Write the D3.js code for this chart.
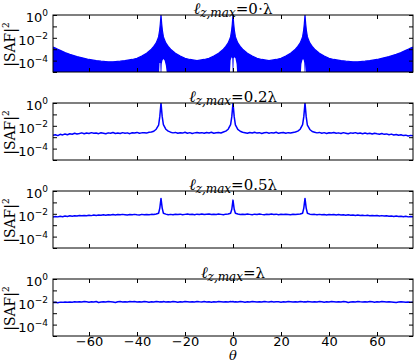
<!DOCTYPE html>
<html><head><meta charset="utf-8">
<script src="https://cdn.jsdelivr.net/npm/d3@7"></script>
<style>body{margin:0;background:#fff}</style>
</head><body>
<script>
// ---------- DATA (log10 of |SAF|^2) ----------
// Panel 1 (l_z,max = 0·λ): dense side-lobe band, given as upper / lower envelope
const theta1 = [-75,-74,-73,-72,-70,-68,-65,-62,-60,-57,-55,-52,-50,-47,-45,-42,-40,-38,-36,-34,-33,-32,-31.5,-31,-30.6,-30.3,-30,-29.7,-29.4,-29,-28.5,-28,-27,-26,-24,-22,-20,-18,-15,-12,-10,-8,-6,-4,-3,-2,-1.5,-1,-0.6,-0.3,0,0.3,0.6,1,1.5,2,3,4,6,8,10,12,15,18,20,22,24,26,27,28,28.5,29,29.4,29.7,30,30.3,30.6,31,31.5,32,33,34,36,38,40,42,45,47,50,52,55,57,60,62,65,68,70,72,73,74,75];
const upper1 = [-2.8,-2.9,-3.0,-3.1,-3.3,-3.45,-3.65,-3.8,-3.9,-4.0,-4.05,-4.1,-4.1,-4.05,-4.0,-3.9,-3.8,-3.6,-3.35,-3.0,-2.75,-2.45,-2.2,-1.9,-1.4,-0.8,0,-0.8,-1.4,-1.9,-2.2,-2.45,-2.75,-3.0,-3.35,-3.6,-3.8,-3.9,-4.0,-3.9,-3.8,-3.6,-3.35,-3.0,-2.75,-2.45,-2.2,-1.9,-1.4,-0.8,0,-0.8,-1.4,-1.9,-2.2,-2.45,-2.75,-3.0,-3.35,-3.6,-3.8,-3.9,-4.0,-3.9,-3.8,-3.6,-3.35,-3.0,-2.75,-2.45,-2.2,-1.9,-1.4,-0.8,0,-0.8,-1.4,-1.9,-2.2,-2.45,-2.75,-3.0,-3.35,-3.6,-3.8,-3.9,-4.0,-4.05,-4.1,-4.1,-4.05,-4.0,-3.9,-3.8,-3.65,-3.45,-3.3,-3.1,-3.0,-2.9,-2.8];
const lower1 = [-6,-6,-6,-6,-6,-6,-6,-6,-6,-6,-6,-6,-6,-6,-6,-6,-6,-6,-6,-6,-6,-6,-6,-6,-4.2,-4.2,-6,-4.3,-4.0,-3.85,-4.0,-4.4,-6,-6,-6,-6,-6,-6,-6,-6,-6,-6,-6,-6,-6,-6,-6,-4.0,-3.7,-3.8,-6,-3.8,-3.7,-3.8,-4.3,-6,-6,-6,-6,-6,-6,-6,-6,-6,-6,-6,-6,-6,-6,-6,-4.3,-3.9,-3.9,-4.2,-6,-4.3,-6,-6,-6,-6,-6,-6,-6,-6,-6,-6,-6,-6,-6,-6,-6,-6,-6,-6,-6,-6,-6,-6,-6,-6,-6];

// Panels 2-4 share one θ grid
const theta = [-75,-74,-73,-72,-71,-70,-69,-68,-67,-66,-65,-64,-63,-62,-61,-60,-59,-58,-57,-56,-55,-54,-53,-52,-51,-50,-49,-48,-47,-46,-45,-44,-43,-42,-41,-40,-39,-38,-37,-36,-35,-34,-33,-32,-31,
 -30.5,-30,-29.5,
 -29,-28,-27,-26,-25,-24,-23,-22,-21,-20,-19,-18,-17,-16,-15,-14,-13,-12,-11,-10,-9,-8,-7,-6,-5,-4,-3,-2,-1,
 -0.5,0,0.5,
 1,2,3,4,5,6,7,8,9,10,11,12,13,14,15,16,17,18,19,20,21,22,23,24,25,26,27,28,29,
 29.5,30,30.5,
 31,32,33,34,35,36,37,38,39,40,41,42,43,44,45,46,47,48,49,50,51,52,53,54,55,56,57,58,59,60,61,62,63,64,65,66,67,68,69,70,71,72,73,74,75];

const saf02 = [-2.84,-2.78,-2.86,-2.75,-2.80,-2.72,-2.78,-2.70,-2.74,-2.66,
 -2.72,-2.68,-2.62,-2.70,-2.64,-2.68,-2.60,-2.66,-2.63,-2.69,
 -2.61,-2.65,-2.70,-2.62,-2.66,-2.59,-2.67,-2.63,-2.68,-2.60,
 -2.65,-2.62,-2.69,-2.61,-2.64,-2.58,-2.66,-2.62,-2.60,-2.64,
 -2.57,-2.55,-2.48,-2.30,-1.95,
 -1.2,0,-1.2,
 -1.9,-2.3,-2.47,-2.56,-2.62,-2.58,-2.66,-2.61,-2.64,-2.57,
 -2.65,-2.60,-2.67,-2.62,-2.58,-2.64,-2.60,-2.66,-2.59,-2.63,
 -2.57,-2.65,-2.61,-2.58,-2.63,-2.55,-2.47,-2.30,-1.90,
 -1.2,0,-1.2,
 -1.92,-2.32,-2.48,-2.57,-2.61,-2.66,-2.59,-2.63,-2.57,-2.64,
 -2.60,-2.67,-2.61,-2.58,-2.65,-2.60,-2.63,-2.57,-2.66,-2.61,
 -2.59,-2.65,-2.60,-2.63,-2.58,-2.55,-2.47,-2.30,-1.90,
 -1.2,0,-1.2,
 -1.95,-2.32,-2.50,-2.56,-2.62,-2.58,-2.65,-2.60,-2.67,-2.61,
 -2.64,-2.59,-2.66,-2.62,-2.68,-2.60,-2.65,-2.70,-2.62,-2.66,
 -2.60,-2.67,-2.63,-2.69,-2.64,-2.70,-2.66,-2.72,-2.65,-2.70,
 -2.74,-2.68,-2.75,-2.71,-2.78,-2.73,-2.80,-2.76,-2.83,-2.78,
 -2.86,-2.82,-2.90,-2.84,-2.88];

const saf05 = [-2.28,-2.24,-2.27,-2.22,-2.25,-2.20,-2.23,-2.18,-2.21,-2.17,
 -2.20,-2.15,-2.18,-2.14,-2.17,-2.12,-2.16,-2.11,-2.14,-2.10,
 -2.13,-2.09,-2.12,-2.08,-2.11,-2.07,-2.10,-2.06,-2.09,-2.05,
 -2.08,-2.11,-2.06,-2.09,-2.05,-2.08,-2.10,-2.05,-2.08,-2.06,
 -2.09,-2.05,-2.07,-2.02,-1.95,
 -1.5,-0.65,-1.5,
 -1.95,-2.03,-2.08,-2.05,-2.09,-2.04,-2.07,-2.03,-2.08,-2.05,
 -2.02,-2.07,-2.04,-2.08,-2.03,-2.06,-2.02,-2.07,-2.04,-2.01,
 -2.06,-2.03,-2.07,-2.02,-2.05,-2.08,-2.03,-2.01,-1.95,
 -1.6,-0.8,-1.6,
 -1.95,-2.02,-2.06,-2.03,-2.07,-2.02,-2.05,-2.08,-2.03,-2.06,
 -2.01,-2.05,-2.08,-2.04,-2.07,-2.02,-2.06,-2.03,-2.08,-2.04,
 -2.07,-2.03,-2.06,-2.09,-2.04,-2.07,-2.04,-2.01,-1.95,
 -1.5,-0.65,-1.5,
 -1.95,-2.03,-2.07,-2.05,-2.09,-2.05,-2.08,-2.06,-2.10,-2.06,
 -2.09,-2.07,-2.11,-2.07,-2.10,-2.08,-2.12,-2.09,-2.13,-2.10,
 -2.14,-2.11,-2.15,-2.12,-2.16,-2.13,-2.17,-2.14,-2.18,-2.15,
 -2.19,-2.16,-2.20,-2.17,-2.21,-2.19,-2.23,-2.20,-2.24,-2.21,
 -2.25,-2.22,-2.27,-2.24,-2.27];

const saf10 = [-2.07,-2.04,-2.08,-2.03,-2.05,-2.02,-2.04,-2.01,-2.03,-2.00,
 -2.02,-1.99,-2.01,-1.98,-2.00,-2.03,-1.99,-2.01,-1.98,-2.06,
 -2.02,-1.99,-2.01,-1.98,-2.00,-2.02,-2.06,-2.00,-1.98,-2.01,
 -1.99,-2.02,-1.98,-2.00,-1.97,-2.01,-1.99,-2.02,-1.98,-2.00,
 -2.03,-1.99,-2.01,-1.98,-2.00,
 -2.02,-1.99,-2.01,
 -1.98,-2.01,-1.99,-2.02,-1.98,-2.00,-2.04,-1.99,-2.01,-1.98,
 -2.00,-2.02,-1.99,-2.01,-1.97,-2.00,-2.02,-1.98,-2.01,-1.99,
 -2.03,-1.99,-2.01,-1.98,-2.00,-2.02,-1.99,-2.01,-1.98,
 -2.00,-1.98,-2.01,
 -1.99,-2.02,-1.98,-2.00,-2.03,-1.99,-2.01,-1.98,-2.00,-2.02,
 -1.99,-2.01,-1.97,-2.00,-2.02,-1.98,-2.01,-1.99,-2.00,-2.03,
 -1.99,-2.01,-1.98,-2.00,-2.02,-1.99,-2.01,-1.98,-2.00,
 -2.02,-1.99,-2.01,
 -1.98,-2.00,-2.02,-1.99,-2.01,-1.98,-2.00,-2.03,-1.99,-2.01,
 -1.98,-2.00,-2.02,-1.99,-2.01,-1.98,-2.00,-2.06,-2.01,-1.99,
 -2.02,-1.98,-2.00,-2.01,-1.99,-2.02,-1.98,-2.00,-2.03,-1.99,
 -2.01,-1.98,-2.00,-2.02,-1.99,-2.01,-2.03,-2.06,-2.02,-2.00,
 -2.02,-2.04,-2.01,-2.05,-2.03];

const panelTitles = ["0\u22C5\u03BB", "0.2\u03BB", "0.5\u03BB", "\u03BB"];
const xTicks = [-60,-40,-20,0,20,40,60];
const yLabelTicks = [1, 1e-2, 1e-4];
const yAllTicks = [1, 1e-1, 1e-2, 1e-3, 1e-4, 1e-5];
const xDomain = [-75, 75];
const yDomain = [1e-5, 1];

// ---------- LAYOUT ----------
const W = 415, H = 363;
const left = 53, right = 413;
const panelTops = [15, 103, 191, 279];
const ph = 57;
const blue = "#0000ff";

const svg = d3.select("body").append("svg").attr("width", W).attr("height", H)
  .style("font-family", "'DejaVu Sans', sans-serif");

const x = d3.scaleLinear().domain(xDomain).range([left, right]);

panelTops.forEach((top, i) => {
  const bottom = top + ph;
  const y = d3.scaleLog().domain(yDomain).range([bottom, top]);
  const g = svg.append("g");
  const clipId = "clip" + i;
  svg.append("clipPath").attr("id", clipId).append("rect")
    .attr("x", left).attr("y", top).attr("width", right - left).attr("height", ph);
  const dg = g.append("g").attr("clip-path", `url(#${clipId})`);

  if (i === 0) {
    const pts = theta1.map((t, k) => ({t, u: upper1[k], l: lower1[k]}));
    dg.append("path").datum(pts)
      .attr("d", d3.area().x(d => x(d.t)).y0(d => y(Math.pow(10, d.l))).y1(d => y(Math.pow(10, d.u))))
      .attr("fill", blue).attr("stroke", "none");
    dg.append("path").datum(pts)
      .attr("d", d3.line().x(d => x(d.t)).y(d => y(Math.pow(10, d.u))))
      .attr("fill", "none").attr("stroke", blue).attr("stroke-width", 1.2);
  } else {
    const vals = [saf02, saf05, saf10][i - 1];
    const pts = theta.map((t, k) => ({t, v: vals[k]}));
    dg.append("path").datum(pts)
      .attr("d", d3.line().x(d => x(d.t)).y(d => y(Math.pow(10, d.v))))
      .attr("fill", "none").attr("stroke", blue).attr("stroke-width", 1.5)
      .attr("stroke-linejoin", "round");
  }

  // ticks (inward) on all four sides
  const tickStyle = sel => { sel.select(".domain").remove(); sel.selectAll("line").attr("stroke", "#000"); };
  g.append("g").attr("transform", `translate(${left},0)`)
    .call(d3.axisLeft(y).tickValues(yAllTicks).tickSize(-4).tickFormat(() => "")).call(tickStyle);
  g.append("g").attr("transform", `translate(${right},0)`)
    .call(d3.axisRight(y).tickValues(yAllTicks).tickSize(-4).tickFormat(() => "")).call(tickStyle);
  g.append("g").attr("transform", `translate(0,${top})`)
    .call(d3.axisTop(x).tickValues(xTicks).tickSize(-4).tickFormat(() => "")).call(tickStyle);
  const bx = g.append("g").attr("transform", `translate(0,${bottom})`)
    .call(d3.axisBottom(x).tickValues(xTicks).tickSize(-4).tickPadding(1)
      .tickFormat(i === 3 ? d3.format("d") : () => "")).call(tickStyle);
  bx.selectAll("text").attr("font-size", 13).attr("fill", "#000")
    .attr("font-family", "'DejaVu Sans', sans-serif");

  // y tick labels 10^n
  const yl = g.append("g").attr("transform", `translate(${left},0)`)
    .call(d3.axisLeft(y).tickValues(yLabelTicks).tickSize(0).tickPadding(5).tickFormat(() => ""));
  yl.select(".domain").remove();
  yl.selectAll(".tick text").each(function(d) {
    const t = d3.select(this).attr("font-size", 13).attr("fill", "#000")
      .attr("font-family", "'DejaVu Sans', sans-serif").attr("dy", "0.52em");
    t.append("tspan").text("10");
    const e = Math.round(Math.log10(d));
    t.append("tspan").attr("dy", -6).attr("font-size", 9).text(e === 0 ? "0" : "\u2212" + Math.abs(e));
  });

  // frame
  g.append("rect").attr("x", left).attr("y", top).attr("width", right - left).attr("height", ph)
    .attr("fill", "none").attr("stroke", "#000").attr("stroke-width", 1);

  // title
  const tt = g.append("text").attr("x", (left + right) / 2).attr("y", top - 1)
    .attr("text-anchor", "middle").attr("font-family", "'DejaVu Serif', serif").attr("font-size", 15).attr("fill", "#000");
  tt.append("tspan").attr("font-style", "italic").attr("font-size", 16).text("\u2113");
  tt.append("tspan").attr("font-style", "italic").attr("font-size", 12).attr("dy", 3).text("z,max");
  tt.append("tspan").attr("dy", -3).text("=" + panelTitles[i]);

  // y label
  const yc = top + ph / 2 + 1;
  const yt = g.append("text").attr("transform", `translate(15,${yc}) rotate(-90)`)
    .attr("text-anchor", "middle").attr("font-family", "'DejaVu Serif', serif").attr("font-size", 14).attr("fill", "#000");
  yt.append("tspan").text("|SAF|");
  yt.append("tspan").attr("dy", -6).attr("font-size", 9).text("2");
});

svg.append("text").attr("x", (left + right) / 2).attr("y", 360).attr("text-anchor", "middle")
  .attr("font-family", "'DejaVu Serif', serif").attr("font-style", "italic").attr("font-size", 13).text("\u03B8");
</script>
</body></html>
